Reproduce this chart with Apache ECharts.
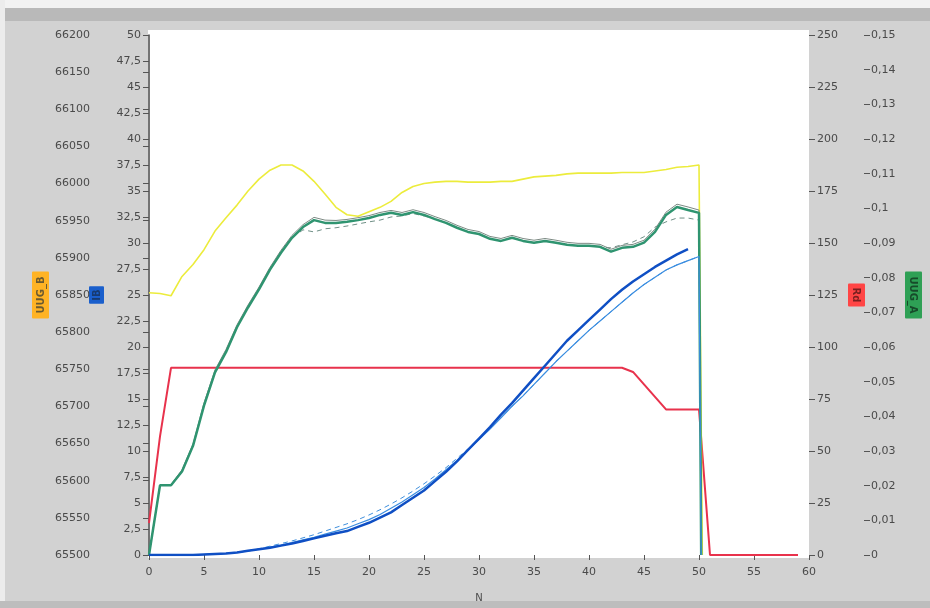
<!DOCTYPE html>
<html>
<head>
<meta charset="utf-8">
<script src="https://cdn.jsdelivr.net/npm/echarts@6/dist/echarts.min.js"></script>
<style>
  html, body { margin: 0; padding: 0; background: #d2d2d2; }
  #chart { width: 930px; height: 608px; }
</style>
</head>
<body>
<div id="chart"></div>
<script>
// Sample index N (x axis)
const steps = [0,1,2,3,4,5,6,7,8,9,10,11,12,13,14,15,16,17,18,19,20,21,22,23,24,25,26,27,28,29,
  30,31,32,33,34,35,36,37,38,39,40,41,42,43,44,45,46,47,48,49,50,51,52,53,54,55,56,57,58,59];

// UUG_B (far-left axis)
const uugB = [65853,65852,65849,65875,65891,65911,65936,65954,65971,65990,66006,66018,66025,66025,66017,
  66003,65986,65968,65958,65956,65962,65968,65976,65988,65996,66000,66002,66003,66003,66002,
  66002,66002,66003,66003,66006,66009,66010,66011,66013,66014,66014,66014,66014,66015,66015,
  66015,66017,66019,66022,66023,66025];
const uugBDrop = [50.3, 65500];

// UUG_A (far-right axis): main trace, upper edge trace, dashed reference
const uugA = [0,0.0201,0.0201,0.0241,0.0315,0.0431,0.0527,0.0585,0.0657,0.0714,0.0766,0.0823,0.0872,0.0915,0.0946,
  0.0966,0.0958,0.0958,0.0961,0.0966,0.0972,0.0981,0.0987,0.0981,0.0989,0.0981,0.0969,0.0958,0.0944,0.0932,
  0.0926,0.0912,0.0906,0.0915,0.0906,0.0901,0.0906,0.0901,0.0895,0.0892,0.0892,0.0889,0.0875,0.0886,0.0889,
  0.0901,0.0932,0.0981,0.1004,0.0995,0.0987];
const uugAEdge = [0,0.0203,0.0203,0.0246,0.0320,0.0439,0.0534,0.0593,0.0664,0.0721,0.0773,0.0830,0.0879,0.0922,0.0953,
  0.0974,0.0966,0.0965,0.0968,0.0973,0.0979,0.0988,0.0994,0.0988,0.0996,0.0988,0.0976,0.0965,0.0951,0.0939,
  0.0933,0.0919,0.0913,0.0922,0.0913,0.0908,0.0913,0.0908,0.0902,0.0899,0.0899,0.0896,0.0882,0.0893,0.0896,
  0.0908,0.0940,0.0989,0.1012,0.1004,0.0995];
const uugARef = [0,0.0201,0.0201,0.0241,0.0315,0.0431,0.0527,0.0585,0.0657,0.0714,0.0766,0.0823,0.0872,0.0915,0.0938,
  0.0932,0.0941,0.0944,0.0949,0.0955,0.0961,0.0966,0.0975,0.0978,0.0985,0.0978,0.0969,0.0958,0.0944,0.0932,
  0.0926,0.0912,0.0906,0.0915,0.0906,0.0901,0.0906,0.0901,0.0895,0.0892,0.0892,0.0889,0.0886,0.0895,0.0903,
  0.0918,0.0946,0.0961,0.0972,0.0972,0.0966];
const uugADrop = [50.2, 0];

// IB (inner-left axis): measured, model, reference
const ib = [0,0,0,0,0,0.05,0.1,0.15,0.25,0.4,0.55,0.7,0.9,1.1,1.35,1.6,1.85,2.1,2.3,2.7,
  3.1,3.6,4.1,4.8,5.5,6.2,7.1,8.0,9.0,10.1,11.2,12.3,13.5,14.6,15.8,17.0,18.2,19.4,20.6,21.6,
  22.6,23.6,24.6,25.5,26.3,27.0,27.7,28.3,28.9,29.4];
const ibModel = [0,0,0,0,0,0.05,0.1,0.15,0.25,0.4,0.55,0.75,0.95,1.2,1.45,1.7,2.0,2.3,2.6,3.0,
  3.4,3.9,4.5,5.1,5.8,6.5,7.3,8.2,9.1,10.1,11.1,12.1,13.2,14.3,15.3,16.4,17.5,18.6,19.6,20.6,
  21.6,22.5,23.4,24.3,25.2,26.0,26.7,27.4,27.9,28.3,28.7];
const ibRef = [0,0,0,0,0,0.05,0.1,0.15,0.25,0.4,0.6,0.85,1.1,1.35,1.65,1.95,2.3,2.65,3.0,3.4,
  3.85,4.35,4.9,5.5,6.15,6.85,7.6,8.4,9.3,10.2,11.1,12.1,13.2,14.3,15.3,16.4,17.5,18.6,19.6,20.6,
  21.6,22.5,23.4,24.3,25.2,26.0,26.7,27.4,27.9,28.3,28.7];
const ibDrop = [50.2, 0];

// Rd (inner-right axis)
const rd = [15.3,57,90,90,90,90,90,90,90,90,90,90,90,90,90,90,90,90,90,90,90,90,90,90,90,90,90,90,90,90,
  90,90,90,90,90,90,90,90,90,90,90,90,90,90,88,82,76,70,70,70,70,0,0,0,0,0,0,0,0,0];

// Axis ranges and tick spacing
const xRange = [0, 60, 5];
const uugBRange = [65500, 66200, 50];
const ibRange = [0, 50, 2.5];
const rdRange = [0, 250, 25];
const uugARange = [0, 0.15, 0.01];

const pairs = (ys, tail) => {
  const out = ys.map((y, i) => [steps[i], y]);
  if (tail) out.push(tail);
  return out;
};
const comma = v => String(parseFloat(Number(v).toFixed(4))).replace('.', ',');

const FONT = 'DejaVu Sans';
const labelColor = '#4a4a4a';
const tickStyle = { show: true, length: 6, lineStyle: { color: '#555', width: 1 } };

function badge(bg, fg, pad) {
  return {
    color: fg, fontFamily: FONT, fontSize: 10, fontWeight: 'bold', backgroundColor: bg,
    padding: pad, borderRadius: 1
  };
}

function yAxis(range, opts) {
  return Object.assign({
    type: 'value', min: range[0], max: range[1], interval: range[2],
    splitLine: { show: false },
    axisTick: tickStyle,
    axisLine: { show: false },
    axisLabel: { color: labelColor, fontFamily: FONT, fontSize: 11, formatter: comma },
    nameLocation: 'middle',
    nameMoveOverlap: false
  }, opts);
}

const chart = echarts.init(document.getElementById('chart'), null, { renderer: 'canvas' });

chart.setOption({
  backgroundColor: '#d2d2d2',
  animation: false,
  graphic: [
    { type: 'rect', z: -5, shape: { x: 0, y: 0, width: 930, height: 8 }, style: { fill: '#f2f2f2' } },
    { type: 'rect', z: -5, shape: { x: 0, y: 8, width: 930, height: 13 }, style: { fill: '#b9b9b9' } },
    { type: 'rect', z: -5, shape: { x: 0, y: 0, width: 5, height: 608 }, style: { fill: '#ececec' } },
    { type: 'rect', z: -5, shape: { x: 0, y: 601, width: 930, height: 7 }, style: { fill: '#bdbdbd' } },
    { type: 'rect', z: -4, shape: { x: 148, y: 30, width: 661, height: 528 }, style: { fill: '#ffffff' } }
  ],
  grid: { left: 149, right: 121, top: 35, bottom: 50, containLabel: false },
  xAxis: {
    type: 'value', min: xRange[0], max: xRange[1], interval: xRange[2],
    name: 'N', nameLocation: 'middle', nameGap: 38,
    nameTextStyle: { color: labelColor, fontFamily: FONT, fontSize: 10 },
    axisLine: { show: false },
    axisTick: { show: true, length: 5, lineStyle: { color: '#555' } },
    axisLabel: { color: labelColor, fontFamily: FONT, fontSize: 11, margin: 12 },
    splitLine: { show: false }
  },
  yAxis: [
    yAxis(uugBRange, {
      position: 'left', offset: 48,
      axisLabel: { color: labelColor, fontFamily: FONT, fontSize: 11, margin: 11, formatter: comma },
      name: 'UUG_B', nameRotate: 90, nameGap: 52,
      nameTextStyle: badge('#ffb324', '#6b5a30', [4, 5, 3, 5])
    }),
    yAxis(ibRange, {
      position: 'left', offset: 0,
      axisLine: { show: true, lineStyle: { color: '#444', width: 1.5 } },
      name: 'IB', nameRotate: 90, nameGap: 45,
      nameTextStyle: badge('#1a5fcc', '#173a70', [3, 3, 2, 3])
    }),
    yAxis(rdRange, {
      position: 'right', offset: 0,
      name: 'Rd', nameRotate: -90, nameGap: 39,
      nameTextStyle: badge('#ff4545', '#7a2020', [4, 4, 3, 4])
    }),
    yAxis(uugARange, {
      position: 'right', offset: 55,
      axisLabel: { color: labelColor, fontFamily: FONT, fontSize: 11, margin: 7, formatter: comma },
      name: 'UUG_A', nameRotate: -90, nameGap: 41,
      nameTextStyle: badge('#2ea055', '#174a2a', [4, 5, 3, 5])
    })
  ],
  series: [
    { name: 'Rd', type: 'line', yAxisIndex: 2, data: pairs(rd), showSymbol: false,
      lineStyle: { color: '#e8324c', width: 2 } },
    { name: 'UUG_B', type: 'line', yAxisIndex: 0, data: pairs(uugB, uugBDrop), showSymbol: false,
      lineStyle: { color: '#ecec3c', width: 1.6 } },
    { name: 'UUG_A ref', type: 'line', yAxisIndex: 3, data: pairs(uugARef, uugADrop), showSymbol: false,
      lineStyle: { color: '#6f8f86', width: 1, type: [5, 4] } },
    { name: 'UUG_A edge', type: 'line', yAxisIndex: 3, data: pairs(uugAEdge, uugADrop), showSymbol: false,
      lineStyle: { color: '#7d8a84', width: 1 } },
    { name: 'UUG_A', type: 'line', yAxisIndex: 3, data: pairs(uugA, uugADrop), showSymbol: false,
      lineStyle: { color: '#2f9470', width: 2.5 } },
    { name: 'IB ref', type: 'line', yAxisIndex: 1, data: pairs(ibRef), showSymbol: false,
      lineStyle: { color: '#3f8fdc', width: 1, type: [5, 4] } },
    { name: 'IB model', type: 'line', yAxisIndex: 1, data: pairs(ibModel, ibDrop), showSymbol: false,
      lineStyle: { color: '#3a8de0', width: 1.2 } },
    { name: 'IB', type: 'line', yAxisIndex: 1, data: pairs(ib), showSymbol: false,
      lineStyle: { color: '#0f4fc4', width: 2.5 } }
  ]
});
</script>
</body>
</html>
